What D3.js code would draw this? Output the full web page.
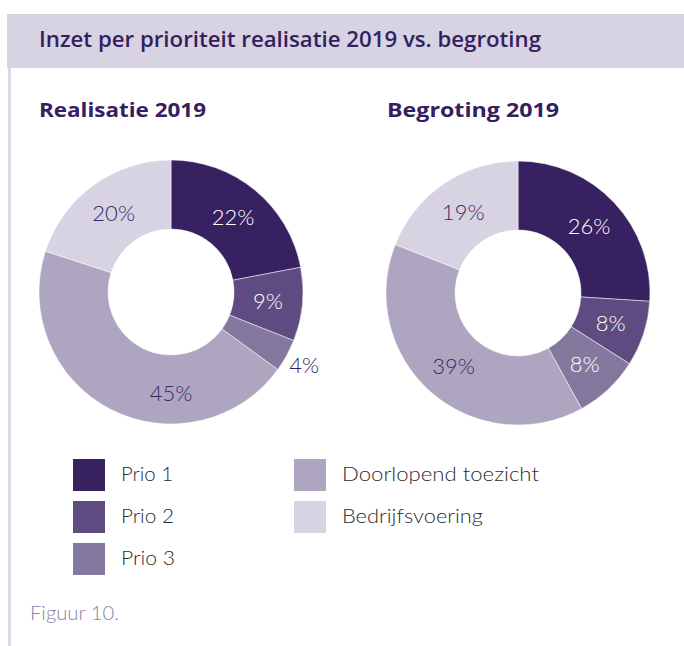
<!DOCTYPE html>
<html>
<head>
<meta charset="utf-8">
<script src="https://cdn.jsdelivr.net/npm/d3@7"></script>
<style>
  body { margin: 0; background: #fff; }
  svg { display: block; font-family: Lato, "Open Sans", sans-serif; }
</style>
</head>
<body>
<svg width="684" height="646"></svg>
<script>
// data
const categories = ["Prio 1", "Prio 2", "Prio 3", "Doorlopend toezicht", "Bedrijfsvoering"];
const realisatie = [22, 9, 4, 45, 20];
const begroting = [26, 8, 8, 39, 19];
const chartTitles = ["Realisatie 2019", "Begroting 2019"];

const colors = ["#372160", "#5e4b82", "#85789f", "#aea5c1", "#d7d3e2"];
const labelColors = ["#fff", "#fff", "#fff", "#3b2a66", "#3b2a66"];
const dark = "#35205f";
const headFont = "'Open Sans', Lato, sans-serif";

const svg = d3.select("svg"),
  width = +svg.attr("width");

// stretch a text to the width it has in the original layout
function fit(sel, w) {
  sel.attr("textLength", w).attr("lengthAdjust", "spacingAndGlyphs");
}

// header band + left rule
svg.append("rect").attr("x", 7).attr("y", 14).attr("width", width - 7).attr("height", 54).attr("fill", "#d7d3e2");
svg.append("rect").attr("x", 8).attr("y", 68).attr("width", 3).attr("height", 578).attr("fill", "#dcd8e6");

svg.append("text")
  .attr("x", 39).attr("y", 47)
  .attr("fill", dark)
  .style("font-family", headFont)
  .style("font-size", "21px").style("font-weight", 600)
  .text("Inzet per prioriteit realisatie 2019 vs. begroting")
  .call(fit, 502);

const outerR = 132, innerR = 63;
const pie = d3.pie().sort(null).value(d => d);
const arc = d3.arc().innerRadius(innerR).outerRadius(outerR);

// small slices get their label outside, the big one at the bottom of the ring
function labelPos(d, i, chart) {
  const share = d.data / d3.sum(chart.values);
  let a = (d.startAngle + d.endAngle) / 2;
  let r = (innerR + outerR) / 2;
  if (share < 0.05) r = outerR + 20;
  if (share > 0.42) { a = Math.PI; r = 101; }
  return [Math.sin(a) * r, -Math.cos(a) * r];
}

const charts = [
  { title: chartTitles[0], values: realisatie, cx: 171, cy: 292, tx: 39, tw: 167 },
  { title: chartTitles[1], values: begroting, cx: 518, cy: 293, tx: 387, tw: 172 }
];

charts.forEach(chart => {
  svg.append("text")
    .attr("x", chart.tx).attr("y", 117)
    .attr("fill", dark)
    .style("font-family", headFont)
    .style("font-size", "20px").style("font-weight", 700)
    .text(chart.title)
    .call(fit, chart.tw);

  const g = svg.append("g").attr("transform", `translate(${chart.cx},${chart.cy})`);
  const arcs = pie(chart.values);

  g.selectAll("path")
    .data(arcs)
    .enter()
    .append("path")
    .attr("d", arc)
    .attr("fill", (d, i) => colors[i])
    .attr("stroke", "#fff")
    .attr("stroke-width", 0.5);

  g.selectAll("text")
    .data(arcs)
    .enter()
    .append("text")
    .attr("transform", (d, i) => `translate(${labelPos(d, i, chart)})`)
    .attr("text-anchor", "middle")
    .attr("dy", "0.36em")
    .attr("fill", (d, i) => d.data / d3.sum(chart.values) < 0.05 ? dark : labelColors[i])
    .style("font-size", "22px").style("font-weight", 300)
    .text(d => d.data + "%");
});

// legend, two columns
const cols = [[0, 1, 2], [3, 4]];
const legendWidths = [52, 53, 54, 197, 141];
const legend = svg.append("g");
cols.forEach((keys, c) => {
  const x0 = 73 + c * 221;
  legend.selectAll(null)
    .data(keys)
    .enter()
    .append("rect")
    .attr("x", x0)
    .attr("y", (d, i) => 459 + i * 42)
    .attr("width", 32)
    .attr("height", 32)
    .attr("fill", d => colors[d]);

  legend.selectAll(null)
    .data(keys)
    .enter()
    .append("text")
    .attr("x", x0 + 48)
    .attr("y", (d, i) => 459 + i * 42 + 22)
    .attr("fill", "#2b2b2b")
    .style("font-size", "20px").style("font-weight", 300)
    .text(d => categories[d])
    .each(function (d) { d3.select(this).call(fit, legendWidths[d]); });
});

svg.append("text")
  .attr("x", 30).attr("y", 620)
  .attr("fill", "#8a80ae")
  .style("font-size", "19px").style("font-weight", 300)
  .text("Figuur 10.")
  .call(fit, 89);
</script>
</body>
</html>
